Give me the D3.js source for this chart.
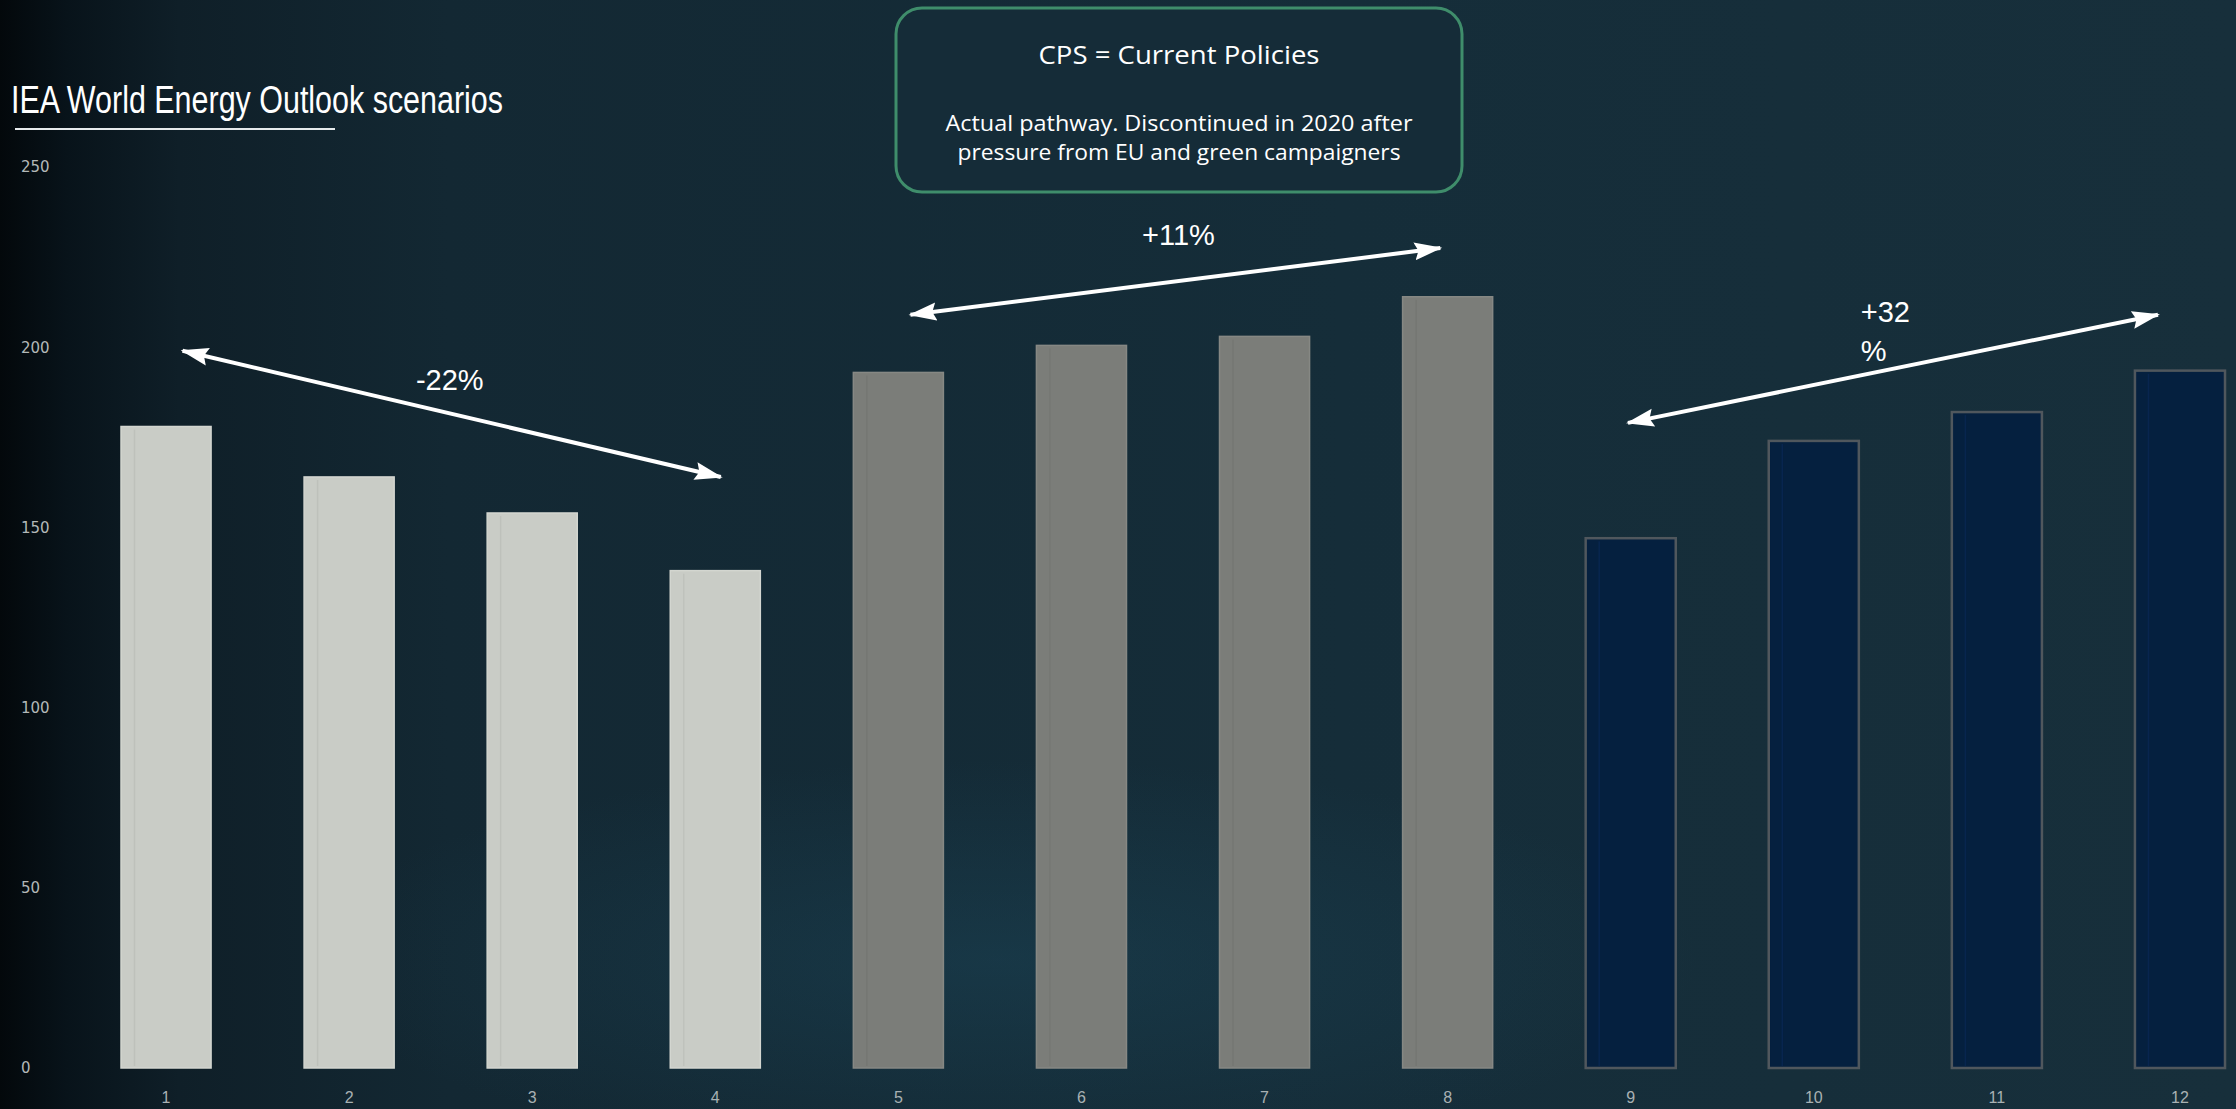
<!DOCTYPE html>
<html><head><meta charset="utf-8">
<script src="https://cdn.jsdelivr.net/npm/d3@7"></script>
<style>html,body{margin:0;padding:0;background:#142a35;overflow:hidden}</style>
</head><body><svg id="c" width="2236" height="1109"></svg>
<script>
// ---- data ----
const categories = ["1","2","3","4","5","6","7","8","9","10","11","12"];
const values = [178, 164, 154, 138, 193, 200.5, 203, 214, 147, 174, 182, 193.5];
const groups = ["light","light","light","light","mid","mid","mid","mid","dark","dark","dark","dark"];
const yTicks = [0, 50, 100, 150, 200, 250];
const titleText = "IEA World Energy Outlook scenarios";
const noteTitle = "CPS = Current Policies";
const noteLines = ["Actual pathway. Discontinued in 2020 after", "pressure from EU and green campaigners"];
// annotation arrows: [category, offset in steps, value]
const arrowFrom = [["1", 0.09, 199], ["5", 0.066, 209], ["9", -0.015, 179]];
const arrowTo   = [["4", 0.03, 164], ["8", -0.04, 227.5], ["12", -0.12, 209]];
const arrowLabels = [["-22%"], ["+11%"], ["+32", "%"]];
const labelPos = [["2", 0.55, 188, "middle"], ["6", 0.53, 228.4, "middle"], ["10", 0.0, 207, "start"]];

// ---- layout ----
const W = 2236, H = 1109;
const svg = d3.select("#c");
const defs = svg.append("defs");

const bg = defs.append("linearGradient").attr("id","bg").attr("x1","0").attr("x2","1").attr("y1","0").attr("y2","0");
[[0,"#03080b"],[0.03,"#08131a"],[0.08,"#0f1f28"],[0.2,"#132833"],[0.6,"#152d39"],[1,"#172f3b"]].forEach(s=>bg.append("stop").attr("offset",s[0]).attr("stop-color",s[1]));
const glow = defs.append("radialGradient").attr("id","glow");
glow.append("stop").attr("offset",0).attr("stop-color","#1d4a5e").attr("stop-opacity",0.4);
glow.append("stop").attr("offset",1).attr("stop-color","#1d4a5e").attr("stop-opacity",0);

svg.append("rect").attr("width",W).attr("height",H).attr("fill","url(#bg)");
svg.append("ellipse").attr("cx",1000).attr("cy",960).attr("rx",700).attr("ry",200).attr("fill","url(#glow)");

const x = d3.scaleBand().domain(categories).range([121, 2225]).paddingInner(0.508).paddingOuter(0);
const y = d3.scaleLinear().domain([0, 250]).range([1068, 167]);

const fills = {light:"#c9ccc6", mid:"#7b7d79", dark:"#05203f"};
const strokes = {light:"#d3d6d0", mid:"#868884", dark:"#50575d"};

// y axis
const ya = svg.append("g").call(d3.axisLeft(y).tickValues(yTicks).tickSize(0));
ya.select(".domain").remove();
ya.selectAll("text").attr("x",21).attr("text-anchor","start")
  .attr("font-family","DejaVu Sans").attr("font-size",15).attr("fill","#b3b8b8");

// x axis
const xa = svg.append("g").attr("transform","translate(0,1095)").call(d3.axisBottom(x).tickSize(0));
xa.select(".domain").remove();
xa.selectAll("text").attr("dy","0.3em").attr("font-family","Liberation Sans").attr("font-size",16)
  .attr("fill","#a9b1b3");

// bars
const data = categories.map((c,i)=>({c, v:values[i], g:groups[i]}));
svg.append("g").selectAll("rect").data(data).join("rect")
  .attr("x", d=>x(d.c)).attr("width", x.bandwidth())
  .attr("y", d=>y(d.v)).attr("height", d=>y(0)-y(d.v))
  .attr("fill", d=>fills[d.g]).attr("stroke", d=>strokes[d.g])
  .attr("stroke-width", d=>d.g==="dark"?2.5:1.5);
// subtle inner highlight line in each bar
svg.append("g").selectAll("line").data(data).join("line")
  .attr("x1", d=>x(d.c)+x.bandwidth()*0.15).attr("x2", d=>x(d.c)+x.bandwidth()*0.15)
  .attr("y1", d=>y(d.v)+3).attr("y2", y(0)-2)
  .attr("stroke", d=>d.g==="dark"?"#0a2a5a":"#000").attr("stroke-opacity", d=>d.g==="dark"?0.6:0.05).attr("stroke-width",1.5);

// title
svg.append("text").attr("x",11).attr("y",113).text(titleText)
  .attr("font-family","Liberation Sans, Arial, sans-serif").attr("font-size",38)
  .attr("textLength",492).attr("lengthAdjust","spacingAndGlyphs").attr("fill","#ffffff");
svg.append("line").attr("x1",15).attr("x2",335).attr("y1",129).attr("y2",129)
  .attr("stroke","#e6eaec").attr("stroke-width",2);

// note box
svg.append("rect").attr("x",896).attr("y",8).attr("width",566).attr("height",184).attr("rx",26)
  .attr("fill","#152c38").attr("stroke","#3f8d6b").attr("stroke-width",3);
svg.append("text").attr("x",1179).attr("y",64).attr("text-anchor","middle").text(noteTitle)
  .attr("font-family","Open Sans, sans-serif").attr("font-size",26).attr("fill","#ffffff")
  .attr("textLength",281).attr("lengthAdjust","spacingAndGlyphs");
const noteWidths = [467, 443];
noteLines.forEach((t,i)=>{
  svg.append("text").attr("x",1179).attr("y",131+i*29).attr("text-anchor","middle").text(t)
    .attr("font-family","Open Sans, sans-serif").attr("font-size",21).attr("fill","#ffffff")
    .attr("textLength",noteWidths[i]).attr("lengthAdjust","spacingAndGlyphs");
});

// arrows
const mk = defs.append("marker").attr("id","ah").attr("markerUnits","userSpaceOnUse")
  .attr("viewBox","0 0 28 20").attr("markerWidth",28).attr("markerHeight",20)
  .attr("refX",26).attr("refY",10).attr("orient","auto-start-reverse");
mk.append("path").attr("d","M0,1 L28,10 L0,19 L4,10 Z").attr("fill","#ffffff");
const px = p => x(p[0]) + x.bandwidth()/2 + p[1]*x.step();
arrowFrom.forEach((f,i)=>{
  const t = arrowTo[i];
  svg.append("line").attr("x1",px(f)).attr("y1",y(f[2])).attr("x2",px(t)).attr("y2",y(t[2]))
    .attr("stroke","#ffffff").attr("stroke-width",4)
    .attr("marker-start","url(#ah)").attr("marker-end","url(#ah)");
  const lp = labelPos[i];
  const lx = lp[3]==="start" ? px(lp)+47 : px(lp);
  arrowLabels[i].forEach((s,j)=>{
    svg.append("text").attr("x",lx).attr("y",y(lp[2])+j*39).attr("text-anchor",lp[3]).text(s)
      .attr("font-family","Liberation Sans, Arial, sans-serif").attr("font-size",29).attr("fill","#ffffff");
  });
});
</script></body></html>
